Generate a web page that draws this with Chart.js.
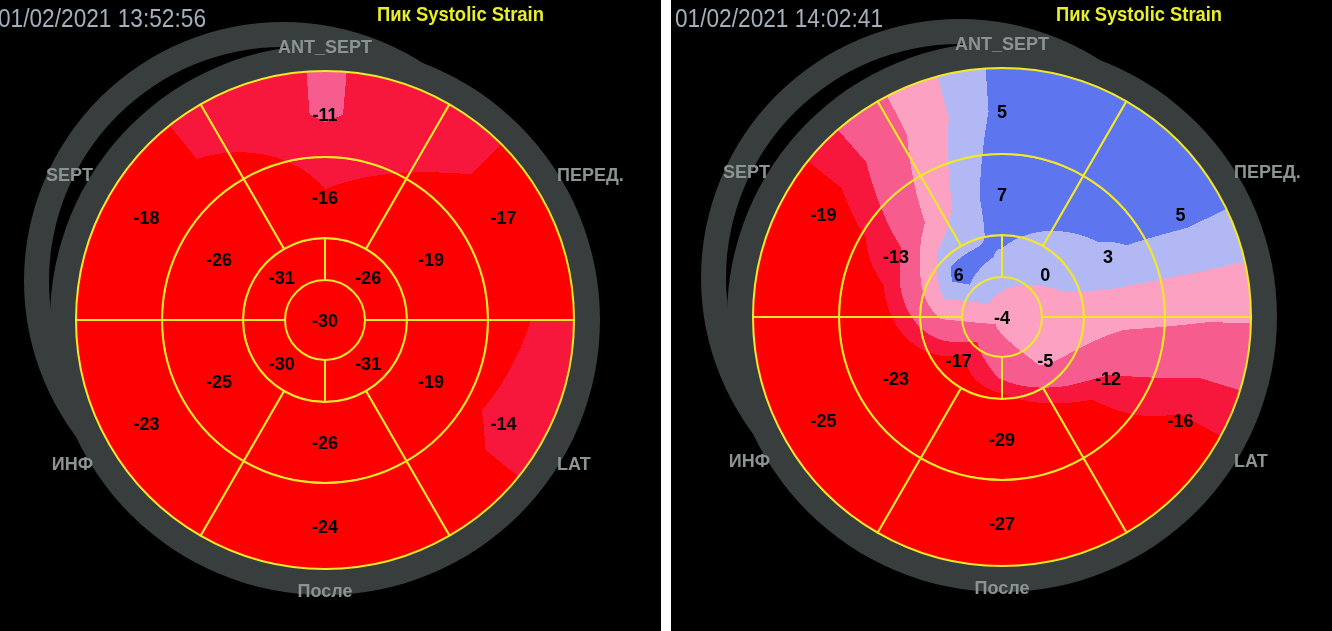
<!DOCTYPE html>
<html lang="ru">
<head>
<meta charset="utf-8">
<title>Пик Systolic Strain</title>
<script src="https://cdn.jsdelivr.net/npm/chart.js@4.4.0/dist/chart.umd.min.js"></script>
<style>
    html, body { margin: 0; padding: 0; background: #fff; }
    body { width: 1332px; height: 631px; position: relative; overflow: hidden; }
    .panel { position: absolute; top: 0; width: 661px; height: 631px; background: #000; overflow: hidden; }
    .panel canvas { position: absolute; left: 0; top: 0; }
    .fecha { position: absolute; top: 6px; font: 25px/1 "Liberation Sans Narrow", "Liberation Sans", Arial, sans-serif; color: #a3afbb; white-space: nowrap; transform-origin: 0 0; }
    .titulo { position: absolute; top: 3px; font: bold 21px/1 "Liberation Sans Narrow", "Liberation Sans", Arial, sans-serif; color: #e9ef26; white-space: nowrap; transform-origin: 0 0; }
</style>
</head>
<body>
<div class="panel" style="left:0">
    <canvas id="grafico-1" width="661" height="631"></canvas>
    <div class="fecha" style="left:-2px" data-ancho="208">01/02/2021 13:52:56</div>
    <div class="titulo" style="left:377px" data-ancho="167">Пик Systolic Strain</div>
</div>
<div class="panel" style="left:671px">
    <canvas id="grafico-2" width="661" height="631"></canvas>
    <div class="fecha" style="left:4px" data-ancho="208">01/02/2021 14:02:41</div>
    <div class="titulo" style="left:385px" data-ancho="166">Пик Systolic Strain</div>
</div>
<script>
// Nombres de las zonas, en sentido horario desde arriba
const zonas = ['ANT_SEPT', 'ПЕРЕД.', 'LAT', 'После', 'ИНФ', 'SEPT'];

// Estudio 1 (13:52:56) - anillos basal y medio: 6 segmentos, apical: 4, ápex: 1
const basal1 = [-11, -17, -14, -24, -23, -18];
const medio1 = [-16, -19, -19, -26, -25, -26];
const apical1 = [-26, -31, -30, -31];
const apex1 = [-30];

// Estudio 2 (14:02:41)
const basal2 = [5, 5, -16, -27, -25, -19];
const medio2 = [7, 3, -12, -29, -23, -13];
const apical2 = [0, -5, -17, 6];
const apex2 = [-4];

// Escala de color (bandas) y grosor relativo de los anillos
const limites = [-15.5, -11.5, -6, -1, 3.5];
const colores = ['#fd0000', '#f7173d', '#f65c8e', '#fda1c3', '#b2b8f3', '#5d76f0'];
const grosor = [86, 81, 42, 40];

// Valor de un anillo en el ángulo phi (grados, horario desde arriba)
function valorAnillo(vals, rot, phi) {
    const n = vals.length;
    let u = (phi - rot) / (360 / n) - 0.5;
    u = ((u % n) + n) % n;
    const j = Math.floor(u), t = u - j;
    return vals[j] * (1 - t) + vals[(j + 1) % n] * t;
}

// Mapa de colores del bull's eye, usado como patrón de relleno de los arcos
function crearCampo(chart, anillos) {
    const a = chart.chartArea;
    const cx = (a.left + a.right) / 2, cy = (a.top + a.bottom) / 2;
    const R = (Math.min(a.right - a.left, a.bottom - a.top) - 2) / 2;
    const total = grosor.reduce((s, g) => s + g, 0);
    let borde = R;
    const radios = grosor.map(g => {
        const ext = borde;
        borde -= R * g / total;
        return (ext + borde) / 2;
    });
    radios[radios.length - 1] = 0;
    const niveles = anillos.map((an, i) => ({ r: radios[i], vals: an.vals, rot: an.rot })).reverse();

    const rgb = colores.map(c => [1, 3, 5].map(i => parseInt(c.slice(i, i + 2), 16)));
    const lienzo = document.createElement('canvas');
    lienzo.width = chart.width;
    lienzo.height = chart.height;
    const g = lienzo.getContext('2d');
    const img = g.createImageData(lienzo.width, lienzo.height);

    for (let y = 0; y < lienzo.height; y++) {
        for (let x = 0; x < lienzo.width; x++) {
            const dx = x + 0.5 - cx, dy = y + 0.5 - cy;
            const r = Math.hypot(dx, dy);
            if (r > R + 4) continue;
            let phi = Math.atan2(dx, -dy) * 180 / Math.PI;
            if (phi < 0) phi += 360;
            let v;
            const ultimo = niveles[niveles.length - 1];
            if (r >= ultimo.r) {
                v = valorAnillo(ultimo.vals, ultimo.rot, phi);
            } else {
                let k = 0;
                while (r >= niveles[k + 1].r) k++;
                const n0 = niveles[k], n1 = niveles[k + 1];
                const t = (r - n0.r) / (n1.r - n0.r);
                v = valorAnillo(n0.vals, n0.rot, phi) * (1 - t) + valorAnillo(n1.vals, n1.rot, phi) * t;
            }
            let k = 0;
            while (k < limites.length && v >= limites[k]) k++;
            const p = (y * lienzo.width + x) * 4;
            img.data[p] = rgb[k][0];
            img.data[p + 1] = rgb[k][1];
            img.data[p + 2] = rgb[k][2];
            img.data[p + 3] = 255;
        }
    }
    g.putImageData(img, 0, 0);
    return chart.ctx.createPattern(lienzo, 'no-repeat');
}

// Fondo gris (anillos), nombres de zonas y valores de cada segmento
const plugBullseye = {
    id: 'bullseye',
    beforeDatasetsDraw(chart) {
        const a = chart.chartArea;
        const cx = (a.left + a.right) / 2, cy = (a.top + a.bottom) / 2;
        const R = (Math.min(a.right - a.left, a.bottom - a.top) - 2) / 2;
        const ctx = chart.ctx;
        ctx.save();
        ctx.fillStyle = '#383d3e';
        ctx.beginPath();
        ctx.arc(cx, cy, R + 26, 0, Math.PI * 2);
        ctx.fill();
        ctx.beginPath();
        ctx.arc(cx - 42, cy - 39, R + 10, 0, Math.PI * 2);
        ctx.arc(cx - 42, cy - 39, R - 15, 0, Math.PI * 2, true);
        ctx.fill();

        ctx.font = 'bold 18px "Liberation Sans", Arial, sans-serif';
        ctx.fillStyle = '#8b9393';
        ctx.textBaseline = 'middle';
        zonas.forEach((nombre, i) => {
            if (i === 0 || i === 3) {
                ctx.textAlign = 'center';
                ctx.fillText(nombre, cx, i === 0 ? cy - 272 : cy + 272);
            } else {
                const derecha = i < 3;
                ctx.textAlign = derecha ? 'left' : 'right';
                const arriba = i === 1 || i === 5;
                ctx.fillText(nombre, derecha ? cx + 232 : cx - 232, arriba ? cy - 144 : cy + 145);
            }
        });
        ctx.restore();
    },
    afterDatasetsDraw(chart) {
        const ctx = chart.ctx;
        ctx.save();
        ctx.font = 'bold 18px "Liberation Sans", Arial, sans-serif';
        ctx.fillStyle = '#000';
        ctx.textAlign = 'center';
        ctx.textBaseline = 'middle';
        chart.data.datasets.forEach((ds, i) => {
            chart.getDatasetMeta(i).data.forEach((arco, j) => {
                const p = ds.valores.length === 1 ? { x: arco.x, y: arco.y } : arco.tooltipPosition();
                ctx.fillText(String(ds.valores[j]), p.x, p.y + 2);
            });
        });
        ctx.restore();
    }
};

function crearGrafico(id, basal, medio, apical, apex, padding) {
    const anillos = [
        { vals: basal, rot: -30 },
        { vals: medio, rot: -30 },
        { vals: apical, rot: 0 },
        { vals: apex, rot: 0 }
    ];
    const relleno = ctx => {
        const chart = ctx.chart;
        if (!chart.chartArea) return colores[0];
        if (!chart.$campo) chart.$campo = crearCampo(chart, anillos);
        return chart.$campo;
    };
    const nombres = ['Basal', 'Medio', 'Apical', 'Ápex'];
    return new Chart(document.getElementById(id), {
        type: 'doughnut',
        data: {
            datasets: anillos.map((an, i) => ({
                label: nombres[i],
                data: an.vals.map(() => 1),
                valores: an.vals,
                weight: grosor[i],
                rotation: an.rot,
                backgroundColor: relleno,
                borderColor: '#f2e82a',
                borderWidth: i === 3 ? 0 : 2
            }))
        },
        options: {
            responsive: false,
            animation: false,
            events: [],
            cutout: 0,
            layout: { padding: padding },
            plugins: {
                legend: { display: false },
                tooltip: { enabled: false }
            }
        },
        plugins: [plugBullseye]
    });
}

document.addEventListener('DOMContentLoaded', function () {
    // Ajustar el ancho de los textos superiores
    document.querySelectorAll('[data-ancho]').forEach(el => {
        const w = el.getBoundingClientRect().width;
        el.style.transform = `scaleX(${el.dataset.ancho / w})`;
    });

    crearGrafico('grafico-1', basal1, medio1, apical1, apex1, { left: 75, right: 86, top: 70, bottom: 61 });
    crearGrafico('grafico-2', basal2, medio2, apical2, apex2, { left: 81, right: 80, top: 67, bottom: 64 });
});
</script>
</body>
</html>
